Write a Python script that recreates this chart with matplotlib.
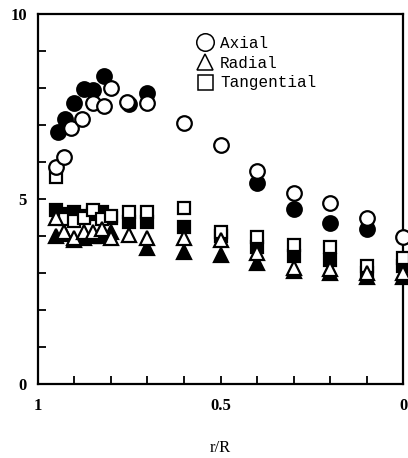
import matplotlib
matplotlib.use("Agg")
import matplotlib.pyplot as plt

# Velocity components versus radial position r/R (open: set 1, filled: set 2)
axial_open_x = [0.95, 0.93, 0.91, 0.88, 0.85, 0.82, 0.80, 0.755, 0.70, 0.60, 0.50, 0.40, 0.30, 0.20, 0.10, 0.00]
axial_open_y = [5.86, 6.14, 6.92, 7.16, 7.60, 7.51, 8.00, 7.62, 7.60, 7.05, 6.46, 5.76, 5.16, 4.89, 4.49, 3.97]

axial_fill_x = [0.945, 0.925, 0.90, 0.875, 0.85, 0.82, 0.75, 0.70, 0.40, 0.30, 0.20, 0.10]
axial_fill_y = [6.81, 7.16, 7.60, 7.97, 7.95, 8.32, 7.57, 7.86, 5.43, 4.73, 4.35, 4.19]

radial_open_x = [0.95, 0.93, 0.90, 0.875, 0.85, 0.825, 0.80, 0.75, 0.70, 0.60, 0.50, 0.40, 0.30, 0.20, 0.10, 0.00]
radial_open_y = [4.50, 4.10, 3.95, 4.10, 4.10, 4.20, 3.95, 4.03, 3.95, 3.95, 3.90, 3.55, 3.15, 3.10, 3.00, 3.00]

radial_fill_x = [0.95, 0.925, 0.90, 0.875, 0.85, 0.825, 0.80, 0.70, 0.60, 0.50, 0.40, 0.30, 0.20, 0.10, 0.00]
radial_fill_y = [4.00, 4.05, 3.90, 3.95, 4.00, 4.00, 4.10, 3.67, 3.57, 3.49, 3.27, 3.05, 3.00, 2.90, 2.90]

tang_open_x = [0.95, 0.925, 0.90, 0.875, 0.85, 0.825, 0.80, 0.75, 0.70, 0.60, 0.50, 0.40, 0.30, 0.20, 0.10, 0.00]
tang_open_y = [5.60, 4.45, 4.40, 4.50, 4.70, 4.45, 4.55, 4.65, 4.65, 4.76, 4.10, 3.97, 3.76, 3.70, 3.20, 3.40]

tang_fill_x = [0.95, 0.925, 0.90, 0.875, 0.85, 0.825, 0.80, 0.75, 0.70, 0.60, 0.50, 0.40, 0.30, 0.20, 0.10, 0.00]
tang_fill_y = [4.70, 4.60, 4.65, 4.55, 4.60, 4.65, 4.50, 4.38, 4.38, 4.24, 4.00, 3.70, 3.45, 3.35, 3.00, 3.20]

legend_labels = ["Axial", "Radial", "Tangential"]

# tick positions every 0.1 / every 1, labelled only at a few of them
x_tick_pos = [i / 10 for i in range(11)]
x_tick_labels = ["0", "", "", "", "", "0.5", "", "", "", "", "1"]
y_tick_pos = list(range(11))
y_tick_labels = ["0", "", "", "", "", "5", "", "", "", "", "10"]

fig = plt.figure(figsize=(4.08, 4.58), dpi=100)
ax = fig.add_axes([0.093, 0.1616, 0.895, 0.8074])

ms = 10
mew = 1.6
kw = dict(linestyle="none", markeredgecolor="black", markeredgewidth=mew, clip_on=False, zorder=3)

# filled (second set) drawn first, open on top
ax.plot(tang_fill_x, tang_fill_y, marker="s", markersize=ms - 1, markerfacecolor="black", **kw)
ax.plot(radial_fill_x, radial_fill_y, marker="^", markersize=ms, markerfacecolor="black", **kw)
ax.plot(axial_fill_x, axial_fill_y, marker="o", markersize=ms + 0.5, markerfacecolor="black", **kw)

h_tang, = ax.plot(tang_open_x, tang_open_y, marker="s", markersize=ms - 1, markerfacecolor="white", **kw)
h_rad, = ax.plot(radial_open_x, radial_open_y, marker="^", markersize=ms, markerfacecolor="white", **kw)
h_ax, = ax.plot(axial_open_x, axial_open_y, marker="o", markersize=ms + 0.5, markerfacecolor="white", **kw)

ax.set_xlim(1.0, 0.0)
ax.set_ylim(0, 10)

serif_bold = dict(family="Liberation Serif", weight="bold", size=12)

ax.set_xticks(x_tick_pos)
ax.set_xticklabels(x_tick_labels, fontdict=serif_bold)
ax.set_yticks(y_tick_pos)
ax.set_yticklabels(y_tick_labels, fontdict=serif_bold)

ax.tick_params(axis="both", direction="in", length=6, width=1.3)
ax.tick_params(axis="x", pad=10)
ax.tick_params(axis="y", pad=8)

for s in ax.spines.values():
    s.set_linewidth(1.6)

ax.set_xlabel("r/R", fontdict=dict(family="Liberation Serif", size=12), labelpad=19)

leg = ax.legend([h_ax, h_rad, h_tang], legend_labels,
                loc="upper left", bbox_to_anchor=(0.405, 0.972), frameon=False,
                prop=dict(family="Liberation Mono", size=11.5),
                handlelength=1.0, handletextpad=0.45, labelspacing=0.3, borderpad=0.2,
                markerscale=1.2)
for h in leg.legend_handles:
    h.set_markeredgewidth(1.1)

fig.savefig("out.png", dpi=100)
